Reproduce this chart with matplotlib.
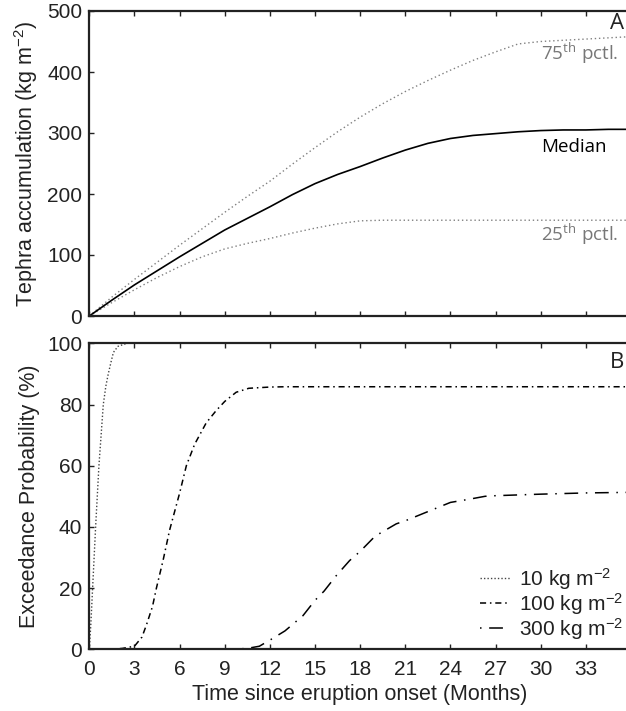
import matplotlib
matplotlib.use("Agg")
import matplotlib.pyplot as plt

plt.rcParams['font.family'] = ['Liberation Sans', 'DejaVu Sans']
plt.rcParams['mathtext.fontset'] = 'custom'
plt.rcParams['mathtext.rm'] = 'Liberation Sans'
plt.rcParams['mathtext.it'] = 'Liberation Sans:italic'
plt.rcParams['mathtext.sf'] = 'Open Sans'

# ---------------- data: panel A ----------------
months_a = [0, 1.5, 3, 4.5, 6, 7.5, 9, 10.5, 12, 13.5, 15, 16.5, 18, 19.5,
            21, 22.5, 24, 25.5, 27, 28.5, 30, 31.5, 33, 34.5, 36]
median = [0, 26, 51, 74, 97, 119, 141, 160, 179, 199, 217, 232, 245, 259,
          272, 283, 291, 296, 299, 302, 304, 305, 305, 306, 306]
p75 = [0, 31, 60, 88, 116, 143, 170, 196, 221, 249, 276, 302, 326, 348,
       368, 386, 403, 419, 433, 446, 450, 452, 454, 456, 458]
p25 = [0, 22, 43, 63, 81, 97, 110, 119, 127, 136, 144, 151, 156, 157,
       157, 157, 157, 157, 157, 157, 157, 157, 157, 157, 157]

# ---------------- data: panel B ----------------
t10 = [0, 0.1, 0.22, 0.42, 0.64, 0.8, 0.93, 1.1, 1.26, 1.45, 1.6, 1.9, 2.5, 36]
p10 = [0, 8, 20, 40, 60, 71, 80, 86, 90, 94, 97, 99, 100, 100]

t100 = [0, 1.5, 2.2, 3.0, 3.5, 3.8, 4.2, 4.46, 4.9, 5.34, 6.0, 6.45, 7.0,
        7.77, 8.43, 9.0, 9.76, 10.6, 12, 13, 36]
p100 = [0, 0, 0.3, 1.0, 4, 8, 14, 20, 29, 39, 51, 60, 67, 74, 78, 81, 84,
        85.3, 85.7, 85.8, 85.8]

t300 = [0, 9.5, 10.5, 11.3, 12, 13, 14.2, 15, 15.6, 16.4, 17.3, 18, 19,
        20.4, 21, 22, 23, 24, 25.2, 26.3, 27, 30, 33, 36]
p300 = [0, 0, 0.3, 1, 3, 6, 11, 16, 19, 24, 29, 32, 37, 41, 42, 44, 46, 48,
        49, 50, 50.2, 50.7, 51.1, 51.3]

legend_labels = [r'10 kg m$^{-2}$', r'100 kg m$^{-2}$', r'300 kg m$^{-2}$']
xticks = list(range(0, 37, 3))
xticklabels = [str(v) for v in range(0, 34, 3)] + ['']

W, H = 626, 711
fig = plt.figure(figsize=(W / 100, H / 100), dpi=100)

def pos(l, t, r, b):
    return [l / W, 1 - b / H, (r - l) / W, (b - t) / H]

axA = fig.add_axes(pos(89.3, 11, 631, 316))
axB = fig.add_axes(pos(89.3, 343.3, 631, 649.3))

FS = 15
LFS = 15.5
for ax in (axA, axB):
    ax.set_xlim(0, 36)
    ax.set_xticks(xticks)
    ax.tick_params(direction='in', length=3.6, width=1.0, top=True,
                   right=True, labelsize=FS, color='#222222',
                   labelcolor='#222222')
    ax.tick_params(axis='y', pad=5)
    ax.tick_params(axis='x', pad=8)
    for s in ax.spines.values():
        s.set_linewidth(1.6)
        s.set_color('#222222')

# Panel A
axA.plot(months_a, p75, color='#808080', lw=1.0, linestyle=(0, (1, 2)))
axA.plot(months_a, p25, color='#808080', lw=1.0, linestyle=(0, (1, 2)))
axA.plot(months_a, median, color='black', lw=1.2)
axA.set_ylim(0, 500)
axA.set_yticks([0, 100, 200, 300, 400, 500])
axA.tick_params(labelbottom=False)
axA.set_ylabel(r'Tephra accumulation (kg m$^{-2}$)', fontsize=LFS,
               color='#222222', labelpad=5)

axA.text(30.0, 431, r'$\mathsf{75^{th}\ pctl.}$', color='#777777',
         fontsize=13.5, va='center', ha='left')
axA.text(30.0, 277, 'Median', family='Open Sans', color='black',
         fontsize=13.5, va='center', ha='left')
axA.text(30.0, 133, r'$\mathsf{25^{th}\ pctl.}$', color='#777777',
         fontsize=13.5, va='center', ha='left')
axA.text(34.6, 480, 'A', family='Open Sans', color='#222222',
         fontsize=16, va='center', ha='left')

# Panel B
l1, = axB.plot(t10, p10, color='#444444', lw=1.0, linestyle=(0, (1, 1.5)))
l2, = axB.plot(t100, p100, color='black', lw=1.1,
               linestyle=(0, (4, 2.5, 1, 2.5)))
l3, = axB.plot(t300, p300, color='black', lw=1.1,
               linestyle=(0, (1, 5, 9, 5)))
axB.set_ylim(0, 100)
axB.set_yticks([0, 20, 40, 60, 80, 100])
axB.set_xticklabels(xticklabels)
axB.set_ylabel('Exceedance Probability (%)', fontsize=LFS, color='#222222',
               labelpad=5)
axB.set_xlabel('Time since eruption onset (Months)', fontsize=LFS,
               color='#222222', labelpad=3)
axB.text(34.6, 93.6, 'B', family='Open Sans', color='#222222',
         fontsize=16, va='center', ha='left')

leg = axB.legend([l1, l2, l3], legend_labels, loc='lower left',
                 bbox_to_anchor=(0.722, 0.025), frameon=False,
                 fontsize=FS, handlelength=1.4, handletextpad=0.45,
                 labelspacing=-0.05, borderpad=0, borderaxespad=0)
for t in leg.get_texts():
    t.set_color('#222222')

fig.savefig('out.png', dpi=100)
